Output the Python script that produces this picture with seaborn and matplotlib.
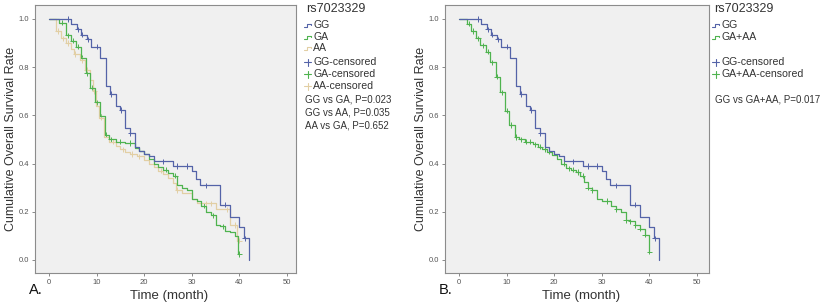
import numpy as np
import pandas as pd
import seaborn as sns
import matplotlib.pyplot as plt
from matplotlib.lines import Line2D

sns.set_style('ticks', {'axes.facecolor': '#f0f0f0', 'axes.edgecolor': '#8c8c8c'})
plt.rcParams['font.family'] = ['Liberation Sans', 'DejaVu Sans']

# ---- data (Kaplan-Meier steps, months / survival) ----
gg_time = [0, 4.7, 5.9, 6.8, 7.9, 8.9, 10.8, 12.0, 12.9, 14.0, 15.0, 16.0, 17.0, 18.1,
           19.0, 19.9, 21.0, 22.0, 26.0, 30.0, 30.8, 31.8, 36.0, 38.0, 40.0, 41.0, 42.0]
gg_surv = [1.0, 0.98, 0.957, 0.934, 0.916, 0.885, 0.837, 0.722, 0.689, 0.64, 0.622, 0.546,
           0.525, 0.47, 0.454, 0.44, 0.43, 0.41, 0.39, 0.37, 0.335, 0.31, 0.23, 0.18,
           0.135, 0.09, 0.0]
gg_cens = [4.0, 6.1, 7.0, 8.2, 10.0, 13.1, 15.2, 17.1, 24.0, 27.0, 29.0, 33.0, 37.0, 41.1]

ga_time = [0, 2.0, 3.6, 4.7, 5.6, 6.7, 7.7, 8.7, 9.7, 10.7, 11.7, 12.7, 14.0, 16.0, 18.0,
           19.0, 20.0, 21.0, 22.0, 23.0, 24.0, 25.0, 26.0, 27.0, 28.0, 29.0, 30.0, 31.0,
           32.0, 33.0, 34.0, 35.0, 36.0, 37.0, 38.0, 39.0, 39.8]
ga_surv = [1.0, 0.985, 0.932, 0.91, 0.885, 0.84, 0.775, 0.715, 0.655, 0.597, 0.52, 0.50,
           0.49, 0.485, 0.465, 0.452, 0.44, 0.42, 0.40, 0.385, 0.375, 0.36, 0.35, 0.31,
           0.30, 0.29, 0.255, 0.245, 0.225, 0.20, 0.185, 0.145, 0.14, 0.12, 0.115, 0.10, 0.025]
ga_cens = [2.7, 4.0, 5.0, 6.0, 7.0, 8.0, 9.0, 10.0, 11.0, 12.0, 13.0, 14.0, 15.0, 17.0,
           24.5, 26.5, 32.5, 34.5, 36.5, 40.0]

aa_time = [0, 1.5, 2.6, 3.6, 4.7, 5.2, 6.5, 7.5, 8.7, 9.2, 9.8, 10.5, 11.5, 12.7, 14.0,
           15.0, 16.0, 17.0, 18.5, 20.0, 21.0, 22.0, 23.0, 24.0, 25.0, 26.0, 26.6, 28.0,
           30.0, 31.0, 35.0, 38.0, 39.5]
aa_surv = [1.0, 0.95, 0.92, 0.90, 0.875, 0.855, 0.83, 0.79, 0.745, 0.70, 0.64, 0.59, 0.51,
           0.49, 0.475, 0.46, 0.45, 0.44, 0.43, 0.415, 0.40, 0.385, 0.37, 0.355, 0.34,
           0.32, 0.29, 0.28, 0.255, 0.235, 0.21, 0.145, 0.08]
aa_cens = [1.9, 3.0, 4.0, 5.5, 7.0, 8.0, 9.5, 11.0, 13.5, 15.5, 17.5, 19.0, 23.5, 27.0,
           33.0, 34.0, 37.5, 39.0, 40.0]

gaaa_time = [0, 1.7, 2.6, 3.6, 4.5, 5.6, 6.6, 7.7, 8.7, 9.7, 10.6, 11.7, 12.7, 13.8, 15.5,
             16.5, 17.5, 18.5, 19.5, 20.5, 21.5, 22.5, 23.5, 24.5, 25.5, 26.2, 27.0, 28.0,
             29.0, 30.0, 32.0, 33.0, 34.0, 35.0, 36.0, 37.0, 38.0, 39.0, 39.8]
gaaa_surv = [1.0, 0.98, 0.95, 0.92, 0.89, 0.865, 0.82, 0.76, 0.695, 0.62, 0.56, 0.51, 0.50,
             0.49, 0.48, 0.47, 0.46, 0.45, 0.435, 0.42, 0.40, 0.38, 0.375, 0.365, 0.35,
             0.325, 0.30, 0.29, 0.255, 0.245, 0.225, 0.21, 0.20, 0.165, 0.16, 0.145, 0.13,
             0.105, 0.035]
gaaa_cens = [2.0, 3.0, 4.0, 5.0, 6.0, 7.0, 8.0, 9.0, 10.0, 11.0, 12.0, 13.0, 14.0, 15.0,
             16.0, 17.0, 18.0, 19.0, 22.0, 23.0, 24.0, 25.0, 26.0, 27.0, 28.0, 31.0, 33.0,
             35.0, 36.0, 37.0, 38.0, 39.0, 40.0]

snp = 'rs7023329'
pvals_a = ['GG vs GA, P=0.023', 'GG vs AA, P=0.035', 'AA vs GA, P=0.652']
pvals_b = ['GG vs GA+AA, P=0.017']

colors = {'GG': '#5463a8', 'GA': '#4fb34f', 'AA': '#e2cfa4', 'GA+AA': '#4fb34f'}
TXT = '#333333'
W, H = 824, 307


def km_tables(groups):
    lines, cens = [], []
    for name, t, s, c in groups:
        t, s, c = list(t), list(s), np.array(c)
        if len(c) and c.max() > t[-1]:
            t.append(c.max())
            s.append(s[-1])
        lines.append(pd.DataFrame({'time': t, 'surv': s, 'group': name}))
        idx = np.searchsorted(t, c, side='right') - 1
        cens.append(pd.DataFrame({'time': c, 'surv': np.array(s)[idx], 'group': name}))
    return pd.concat(lines), pd.concat(cens)


def draw(ax, groups, xmax):
    lines, cens = km_tables(groups)
    order = [g[0] for g in groups][::-1]
    sns.lineplot(data=lines, x='time', y='surv', hue='group', hue_order=order,
                 palette=colors, estimator=None, sort=False, drawstyle='steps-post',
                 linewidth=0.9, legend=False, ax=ax)
    sns.scatterplot(data=cens, x='time', y='surv', hue='group', hue_order=order,
                    palette=colors, marker='+', s=14, linewidth=0.7, legend=False, ax=ax)
    ax.set_xlim(-2.94, xmax)
    ax.set_ylim(-0.054, 1.058)
    ax.set_xticks(np.arange(0, 51, 10))
    ax.set_yticks(np.arange(0, 1.01, 0.2))
    ax.set_yticklabels([f'{v:.1f}' for v in np.arange(0, 1.01, 0.2)])
    ax.tick_params(labelsize=5.5, labelcolor='#555555', color='#777777', length=2.5,
                   width=0.6, pad=1.5)
    for sp in ax.spines.values():
        sp.set_linewidth(0.8)
    ax.set_xlabel('Time (month)', fontsize=9.5, color=TXT)
    ax.set_ylabel('Cumulative Overall Survival Rate', fontsize=9, color=TXT)
    ax.xaxis.set_label_coords(0.515, -0.065)
    ax.yaxis.set_label_coords(-0.07, 0.5)


def fx(x):
    return x / W


def fy(y):
    return 1 - y / H


def legend_block(fig, x_icon, x_text, rows, pvals, x_p, y_p):
    fig.text(fx(x_icon + 2), fy(9), snp, fontsize=9, color=TXT, va='center')
    for name, y, kind in rows:
        c = colors[name.replace('-censored', '')]
        if kind == 'step':
            xs = [0, 3, 3, 6.5, 6.5]
            ys = [1.5, 1.5, -1.5, -1.5, 0]
            fig.add_artist(Line2D([fx(x_icon + v) for v in xs], [fy(y + v) for v in ys],
                                  color=c, linewidth=0.8))
        else:
            fig.add_artist(Line2D([fx(x_icon), fx(x_icon + 7)], [fy(y), fy(y)],
                                  color=c, linewidth=0.8))
            fig.add_artist(Line2D([fx(x_icon + 3.5)] * 2, [fy(y - 3.5), fy(y + 3.5)],
                                  color=c, linewidth=0.8))
        fig.text(fx(x_text), fy(y), name, fontsize=7.6, color=TXT, va='center')
    for i, p in enumerate(pvals):
        fig.text(fx(x_p), fy(y_p + 12.5 * i), p, fontsize=7, color=TXT, va='center')


fig = plt.figure(figsize=(W / 100, H / 100), dpi=100)
ax_a = fig.add_axes([fx(35), fy(273), 261 / W, 268 / H])
ax_b = fig.add_axes([fx(445), fy(273), 264 / W, 268 / H])

draw(ax_a, [('GG', gg_time, gg_surv, gg_cens),
            ('GA', ga_time, ga_surv, ga_cens),
            ('AA', aa_time, aa_surv, aa_cens)], 51.9)
draw(ax_b, [('GG', gg_time, gg_surv, gg_cens),
            ('GA+AA', gaaa_time, gaaa_surv, gaaa_cens)], 52.5)

legend_block(fig, 304, 313,
             [('GG', 25, 'step'), ('GA', 37, 'step'), ('AA', 48, 'step'),
              ('GG-censored', 62, 'cens'), ('GA-censored', 74, 'cens'),
              ('AA-censored', 86, 'cens')],
             pvals_a, 305, 100)
legend_block(fig, 712, 721,
             [('GG', 25, 'step'), ('GA+AA', 37, 'step'),
              ('GG-censored', 62, 'cens'), ('GA+AA-censored', 74, 'cens')],
             pvals_b, 715, 100)

fig.text(fx(29), fy(290), 'A.', fontsize=10.5, color='#111111', va='center')
fig.text(fx(439), fy(290), 'B.', fontsize=10.5, color='#111111', va='center')

fig.savefig('out.png', dpi=100)
